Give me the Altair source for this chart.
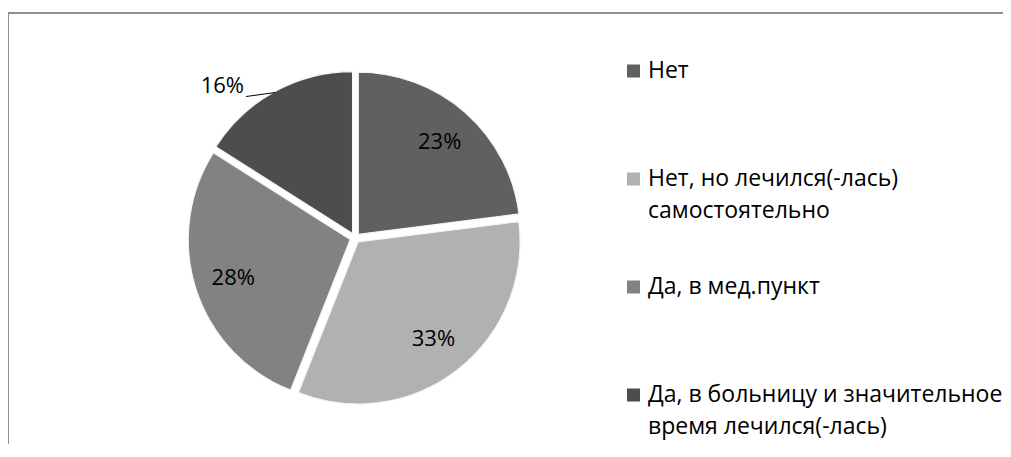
import altair as alt
import pandas as pd

categories = [
    "Нет",
    "Нет, но лечился(-лась) самостоятельно",
    "Да, в мед.пункт",
    "Да, в больницу и значительное время лечился(-лась)",
]
legend_line1 = ["Нет", "Нет, но лечился(-лась)", "Да, в мед.пункт", "Да, в больницу и значительное"]
legend_line2 = ["", "самостоятельно", "", "время лечился(-лась)"]
values = [23, 33, 28, 16]
colors = ["#606060", "#b1b1b1", "#828282", "#4d4d4d"]

df = pd.DataFrame({
    "cat": categories,
    "value": values,
    "order": list(range(len(categories))),
    "line1": legend_line1,
    "line2": legend_line2,
})

FONT = "Open Sans"
CX, CY = 347, 230      # pie centre (chart coords)
R = 162                # pie radius
EXPLODE = 5            # slice explosion offset
LABEL_R = 128          # inside label radius
EDGE_R = 166           # leader start radius

color_scale = alt.Scale(domain=categories, range=colors)

base = (
    alt.Chart(df)
    .transform_window(cum="sum(value)", sort=[alt.SortField("order")], frame=[None, 0])
    .transform_joinaggregate(total="sum(value)")
    .transform_calculate(
        mid="(datum.cum - datum.value/2) / datum.total * 2 * PI",
        lab="datum.value + '%'",
    )
    .transform_calculate(
        ax=f"{CX} + {EXPLODE} * sin(datum.mid)",
        ay=f"{CY} - {EXPLODE} * cos(datum.mid)",
        lx=f"{CX} + {LABEL_R} * sin(datum.mid)",
        ly=f"{CY} - {LABEL_R} * cos(datum.mid)",
        ex=f"{CX} + {EDGE_R} * sin(datum.mid)",
        ey=f"{CY} - {EDGE_R} * cos(datum.mid)",
    )
)

arcs = base.mark_arc(outerRadius=R, stroke="#f4f4f4", strokeWidth=1.2).encode(
    theta=alt.Theta("value:Q", stack=True),
    order=alt.Order("order:Q"),
    color=alt.Color("cat:N", scale=color_scale, legend=None),
    x=alt.X("ax:Q", scale=None, axis=None),
    y=alt.Y("ay:Q", scale=None, axis=None),
)

inside_labels = base.transform_filter("datum.value >= 20").mark_text(
    font=FONT, fontSize=22, color="#000000", align="center", baseline="middle"
).encode(
    x=alt.X("lx:Q", scale=None, axis=None),
    y=alt.Y("ly:Q", scale=None, axis=None),
    text="lab:N",
)

outside = base.transform_filter("datum.value < 20").transform_calculate(
    tx="datum.ex - 31", ty="datum.ey - 7", x2="datum.ex - 29", y2="datum.ey + 4"
)
outside_labels = outside.mark_text(
    font=FONT, fontSize=22, color="#000000", align="right", baseline="middle"
).encode(
    x=alt.X("tx:Q", scale=None, axis=None),
    y=alt.Y("ty:Q", scale=None, axis=None),
    text="lab:N",
)
leader = outside.mark_rule(color="#000000", strokeWidth=1).encode(
    x=alt.X("ex:Q", scale=None, axis=None),
    y=alt.Y("ey:Q", scale=None, axis=None),
    x2="x2:Q",
    y2="y2:Q",
)

leg = alt.Chart(df).transform_calculate(gy="63 + datum.order * 108")
leg_sq = leg.mark_square(size=169, opacity=1).encode(
    x=alt.value(625.5),
    y=alt.Y("gy:Q", scale=None, axis=None),
    color=alt.Color("cat:N", scale=color_scale, legend=None),
)
leg_t1 = leg.mark_text(font=FONT, fontSize=23, color="#000000", align="left", baseline="middle").encode(
    x=alt.value(640),
    y=alt.Y("gy:Q", scale=None, axis=None),
    text="line1:N",
)
leg_t2 = leg.transform_filter("datum.line2 != ''").mark_text(
    font=FONT, fontSize=23, color="#000000", align="left", baseline="middle", dy=32
).encode(
    x=alt.value(640),
    y=alt.Y("gy:Q", scale=None, axis=None),
    text="line2:N",
)

frame_df = pd.DataFrame({"k": [0]})
frame_top = alt.Chart(frame_df).mark_rule(color="#8f8f8f", strokeWidth=2).encode(
    x=alt.value(0), x2=alt.value(1003), y=alt.value(5)
)
frame_left = alt.Chart(frame_df).mark_rule(color="#8f8f8f", strokeWidth=2).encode(
    x=alt.value(0), y=alt.value(5), y2=alt.value(460)
)

chart = (
    alt.layer(frame_top, frame_left, arcs, inside_labels, leader, outside_labels, leg_sq, leg_t1, leg_t2)
    .properties(width=995, height=436, autosize=alt.AutoSizeParams(type="none"), padding=0)
    .configure_view(stroke=None)
)

chart.save("out.html", embed_options={"renderer": "svg", "actions": False})
